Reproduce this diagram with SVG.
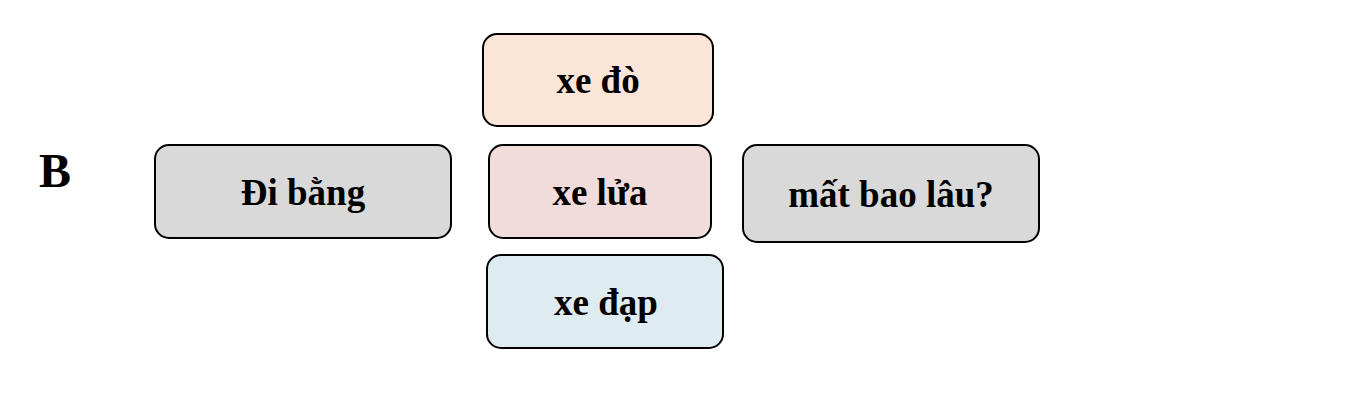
<svg xmlns="http://www.w3.org/2000/svg" width="1364" height="404" viewBox="0 0 1364 404">
<style>
.box{stroke:#000;stroke-width:2}
.t{font-family:"Liberation Serif","Times New Roman",serif;font-weight:bold;font-size:37px;text-anchor:middle;fill:#000}
</style>
<rect width="1364" height="404" fill="#fff"/>
<text x="39" y="187" style="font-family:'Liberation Serif',serif;font-weight:bold;font-size:48px;fill:#000">B</text>
<g id="node-di-bang">
<rect class="box" x="155" y="145" width="296" height="93" rx="14" fill="#D9D9D9"/>
<text class="t" x="303" y="205">Đi bằng</text>
</g>
<g id="node-xe-do">
<rect class="box" x="483" y="34" width="230" height="92" rx="14" fill="#FBE5D6"/>
<text class="t" x="598" y="93">xe đò</text>
</g>
<g id="node-xe-lua">
<rect class="box" x="489" y="145" width="222" height="93" rx="14" fill="#F2DCDB"/>
<text class="t" x="600" y="205">xe lửa</text>
</g>
<g id="node-xe-dap">
<rect class="box" x="487" y="255" width="236" height="93" rx="14" fill="#DEECF1"/>
<text class="t" x="606" y="315">xe đạp</text>
</g>
<g id="node-mat-bao-lau">
<rect class="box" x="743" y="145" width="296" height="97" rx="14" fill="#D9D9D9"/>
<text class="t" x="891" y="207">mất bao lâu?</text>
</g>
<g id="connectors"></g>
</svg>
